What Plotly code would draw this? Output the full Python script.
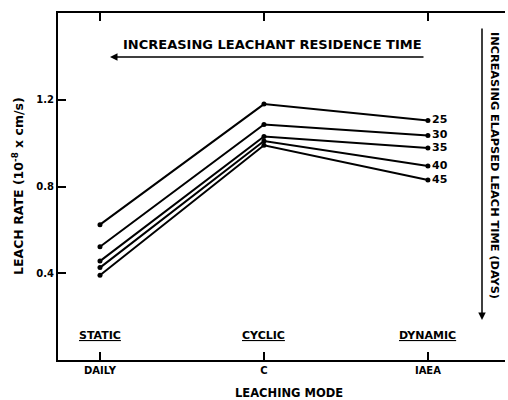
import plotly.graph_objects as go

modes = ["DAILY", "C", "IAEA"]
days = ["25", "30", "35", "40", "45"]
rate_25 = [0.624, 1.180, 1.104]
rate_30 = [0.522, 1.086, 1.035]
rate_35 = [0.456, 1.031, 0.978]
rate_40 = [0.426, 1.010, 0.894]
rate_45 = [0.391, 0.990, 0.830]
series = [rate_25, rate_30, rate_35, rate_40, rate_45]
y_ticks = [0.4, 0.8, 1.2]
mode_names = ["STATIC", "CYCLIC", "DYNAMIC"]

FONT = "DejaVu Sans"
fig = go.Figure()
for d, vals in zip(days, series):
    fig.add_trace(go.Scatter(
        x=modes, y=vals, mode="lines+markers+text",
        text=["", "", d], textposition="middle right",
        textfont=dict(family=FONT, size=11, color="black", weight="bold"),
        line=dict(color="black", width=2),
        marker=dict(color="black", size=5),
        showlegend=False, cliponaxis=False,
    ))

fig.update_layout(
    width=508, height=400,
    margin=dict(l=58, r=3, t=13, b=40),
    paper_bgcolor="white", plot_bgcolor="white",
    font=dict(family=FONT, size=10, color="black"),
    xaxis=dict(
        type="category", range=[-0.256, 2.47],
        showline=True, linecolor="black", linewidth=2, mirror="ticks",
        ticks="inside", ticklen=8, tickwidth=1.5, tickcolor="black",
        showgrid=False, zeroline=False,
        tickfont=dict(family=FONT, size=10, weight="bold"),
    ),
    yaxis=dict(
        range=[0, 1.6], tickvals=y_ticks, ticktext=[("%.1f" % v) for v in y_ticks],
        showline=True, linecolor="black", linewidth=2,
        ticks="inside", ticklen=8, tickwidth=1.5, tickcolor="black",
        showgrid=False, zeroline=False,
        tickfont=dict(family=FONT, size=10, weight="bold"),
    ),
)

C = dict(xanchor="center", yanchor="middle", showarrow=False)
ann = []
# axis titles
ann.append(dict(text="<b>LEACH RATE (10<sup>-8</sup> x cm/s)</b>", xref="paper", yref="paper",
                x=(18 - 58) / 447, y=(360 - 186) / 347, textangle=-90,
                font=dict(size=12.5), **C))
ann.append(dict(text="<b>LEACHING MODE</b>", xref="paper", yref="paper",
                x=(289 - 58) / 447, y=(360 - 393) / 347,
                font=dict(size=11.5), **C))
# mode labels
for m, n in zip(modes, mode_names):
    ann.append(dict(text="<b><u>" + n + "</u></b>", xref="x", yref="paper", x=m,
                    y=(360 - 335) / 347, font=dict(size=11), **C))
# top annotation with arrow
ann.append(dict(text="<b>INCREASING LEACHANT RESIDENCE TIME</b>", xref="paper", yref="paper",
                x=(272 - 58) / 447, y=(360 - 45) / 347, font=dict(size=13), **C))
ann.append(dict(text="", xref="paper", yref="paper", x=(110 - 58) / 447, y=(360 - 57) / 347,
                ax=315, ay=0, showarrow=True, arrowhead=2, arrowsize=1, arrowwidth=1.5,
                arrowcolor="black"))
# right annotation with arrow
ann.append(dict(text="<b>INCREASING ELAPSED LEACH TIME (DAYS)</b>", xref="paper", yref="paper",
                x=(495 - 58) / 447, y=(360 - 165) / 347, textangle=90,
                font=dict(size=11.3), **C))
ann.append(dict(text="", xref="paper", yref="paper", x=(482 - 58) / 447, y=(360 - 320) / 347,
                ax=0, ay=-293, showarrow=True, arrowhead=2, arrowsize=1, arrowwidth=1.5,
                arrowcolor="black"))
fig.update_layout(annotations=ann)

fig.write_html("out.html", config={"displayModeBar": False},
               post_script="document.body.style.margin='0';")
